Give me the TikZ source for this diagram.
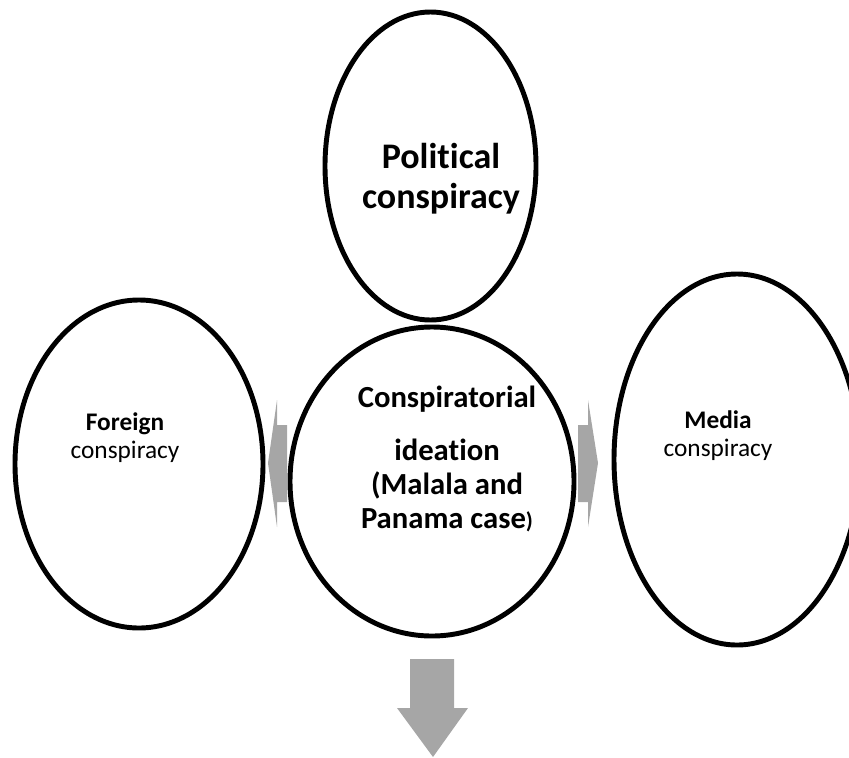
\documentclass[tikz,border=0pt]{standalone}
\usepackage{fontspec}
\setmainfont[Ligatures=NoCommon]{Carlito}
\usetikzlibrary{shapes.geometric}
\definecolor{arrowgray}{RGB}{166,166,166}

\begin{document}
\begin{tikzpicture}[x=0.75pt,y=-0.75pt,
    bubble/.style={draw=black, line width=3.7pt, ellipse, inner sep=0pt},
    bigarrow/.style={fill=arrowgray, draw=none},
    lbl/.style={align=center, anchor=base, inner sep=0pt}]
    \useasboundingbox (0,0) rectangle (849,757);

    % block arrows
    \fill[bigarrow] (410,659) -- (454,659) -- (454,708) -- (468,708) -- (433,757) -- (397,708) -- (410,708) -- cycle;
    \fill[bigarrow] (578,425) -- (588,425) -- (588,400) -- (598,463) -- (588,527) -- (588,502) -- (578,502) -- cycle;
    \fill[bigarrow] (287,425) -- (277,425) -- (277,400) -- (268,463) -- (277,527) -- (277,502) -- (287,502) -- cycle;

    % bubbles
    \node[bubble, minimum width=158.25pt, minimum height=231pt] (political) at (430.5,166) {};
    \node[bubble, minimum width=213pt, minimum height=231.75pt] (ideation) at (432,481.5) {};
    \node[bubble, minimum width=186pt, minimum height=246pt] (foreign) at (139,464) {};
    \node[bubble, minimum width=184.5pt, minimum height=278.25pt] (media) at (737,459.5) {};

    % texts (base = last line)
    \node[lbl, font=\bfseries\fontsize{27}{30}\selectfont] (politicaltext) at (441,208) {Political\\conspiracy};
    \node[lbl, font=\bfseries\fontsize{23}{25.5}\selectfont] (ideationtext) at (447,528)
        {Conspiratorial\\[14.25pt]ideation\\(Malala and\\Panama case{\fontsize{17}{20}\selectfont)}};
    \node[lbl, font=\fontsize{19}{21}\selectfont] (foreigntext) at (125,458) {\textbf{Foreign}\\conspiracy};
    \node[lbl, font=\fontsize{19}{21}\selectfont] (mediatext) at (718,456) {\textbf{Media}\\conspiracy};
\end{tikzpicture}
\end{document}
